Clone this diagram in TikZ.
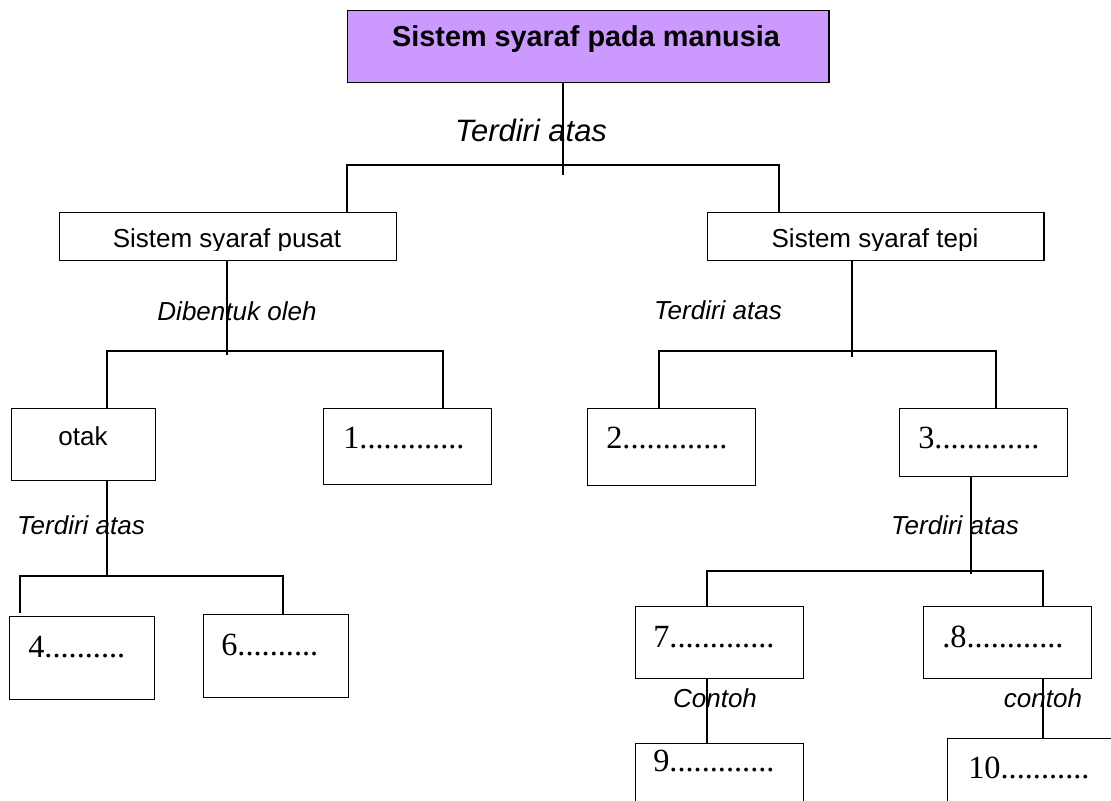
\documentclass[tikz,border=0pt]{standalone}
\usepackage{fontspec}
\setmainfont{Liberation Sans}
\newfontfamily\numfont{Liberation Serif}
\usepackage{tikz}
\usetikzlibrary{positioning}
\definecolor{lilac}{RGB}{204,153,255}
\tikzstyle{box} = [rectangle, draw=black, line width=1pt, inner sep=0pt, anchor=north west]
\tikzstyle{boxtext} = [inner sep=0pt, anchor=base, font=\fontsize{18.5}{22}\selectfont]
\tikzstyle{linktext} = [inner sep=0pt, anchor=base, font=\fontsize{18.5}{22}\selectfont\itshape]
\tikzstyle{numtext} = [inner sep=0pt, anchor=base west, font=\numfont\fontsize{23}{27}\selectfont]
\tikzstyle{line} = [line width=1pt]

\begin{document}
\begin{tikzpicture}[x=0.025cm, y=-0.025cm]
\useasboundingbox (0,0) rectangle (1111,801);
\clip (0,0) rectangle (1111,801);
% boxes
\node (top) [box, fill=lilac, minimum width=12.025cm, minimum height=1.8cm] at (347,10) {};
\node (pusat) [box, minimum width=8.425cm, minimum height=1.2cm] at (59,212) {};
\node (tepi) [box, minimum width=8.4cm, minimum height=1.2cm] at (707,212) {};
\node (otak) [box, minimum width=3.6cm, minimum height=1.8cm] at (11,408) {};
\node (one) [box, minimum width=4.2cm, minimum height=1.9cm] at (323,408) {};
\node (two) [box, minimum width=4.2cm, minimum height=1.925cm] at (587,408) {};
\node (three) [box, minimum width=4.2cm, minimum height=1.7cm] at (899,408) {};
\node (four) [box, minimum width=3.625cm, minimum height=2.075cm] at (9,616) {};
\node (six) [box, minimum width=3.625cm, minimum height=2.075cm] at (203,614) {};
\node (seven) [box, minimum width=4.2cm, minimum height=1.8cm] at (635,606) {};
\node (eight) [box, minimum width=4.2cm, minimum height=1.8cm] at (923,606) {};
\node (nine) [box, minimum width=4.2cm, minimum height=2.5cm] at (635,743) {};
\node (ten) [box, minimum width=4.6cm, minimum height=2.5cm] at (947,738) {};

% box texts
\node (topT) [boxtext, font=\fontsize{20.5}{24}\selectfont\bfseries] at (586,47) {Sistem syaraf pada manusia};
\begin{scope}
  \clip (59,212) rectangle (396,250);
  \node (pusatT) [boxtext] at (227,247) {Sistem syaraf pusat};
\end{scope}
\begin{scope}
  \clip (707,212) rectangle (1043,250);
  \node (tepiT) [boxtext] at (875,247) {Sistem syaraf tepi};
\end{scope}
\node (otakT) [boxtext] at (83,445) {otak};
\node (oneT) [numtext] at (343,448) {1.............};
\node (twoT) [numtext] at (606,448) {2.............};
\node (threeT) [numtext] at (918,448) {3.............};
\node (fourT) [numtext] at (28,657) {4..........};
\node (sixT) [numtext] at (221,655) {6..........};
\node (sevenT) [numtext] at (653,647) {7.............};
\node (eightT) [numtext] at (942,647) {.8............};
\node (nineT) [numtext] at (653,771) {9.............};
\node (tenT) [numtext] at (968,778) {10...........};

% link labels
\node (l1) [linktext, font=\fontsize{22}{26}\selectfont\itshape] at (531,142) {Terdiri atas};
\node (l2) [linktext] at (237,320) {Dibentuk oleh};
\node (l3) [linktext] at (718,319) {Terdiri atas};
\node (l4) [linktext] at (81,534) {Terdiri atas};
\node (l5) [linktext] at (955,534) {Terdiri atas};
\node (l6) [linktext] at (715,707) {Contoh};
\node (l7) [linktext] at (1043,707) {contoh};

% bus points
\coordinate (a1) at (563,165);
\coordinate (a2) at (347,165);
\coordinate (a3) at (779,165);
\coordinate (b1) at (227,351);
\coordinate (b2) at (107,351);
\coordinate (b3) at (443,351);
\coordinate (c1) at (852,351);
\coordinate (c2) at (659,351);
\coordinate (c3) at (996,351);
\coordinate (d1) at (107,576);
\coordinate (d2) at (20,576);
\coordinate (d3) at (283,576);
\coordinate (e1) at (971,571);
\coordinate (e2) at (707,571);
\coordinate (e3) at (1043,571);

% connectors
\draw [line] (top.south -| a1) -- ([yshift=-10*0.025cm]a1);
\draw [line] (pusat.north -| a2) -- (a2) -- (a3) -- (tepi.north -| a3);
\draw [line] (pusat.south -| b1) -- ([yshift=-4*0.025cm]b1);
\draw [line] (otak.north -| b2) -- (b2) -- (b3) -- (one.north -| b3);
\draw [line] (tepi.south -| c1) -- ([yshift=-6*0.025cm]c1);
\draw [line] (two.north -| c2) -- (c2) -- (c3) -- (three.north -| c3);
\draw [line] (otak.south -| d1) -- (d1);
\draw [line] ([yshift=0.075cm]four.north -| d2) -- (d2) -- (d3) -- (six.north -| d3);
\draw [line] (three.south -| e1) -- ([yshift=-3*0.025cm]e1);
\draw [line] (seven.north -| e2) -- (e2) -- (e3) -- (eight.north -| e3);
\draw [line] (seven.south -| e2) -- (nine.north -| e2);
\draw [line] (eight.south -| e3) -- (ten.north -| e3);
\end{tikzpicture}
\end{document}
